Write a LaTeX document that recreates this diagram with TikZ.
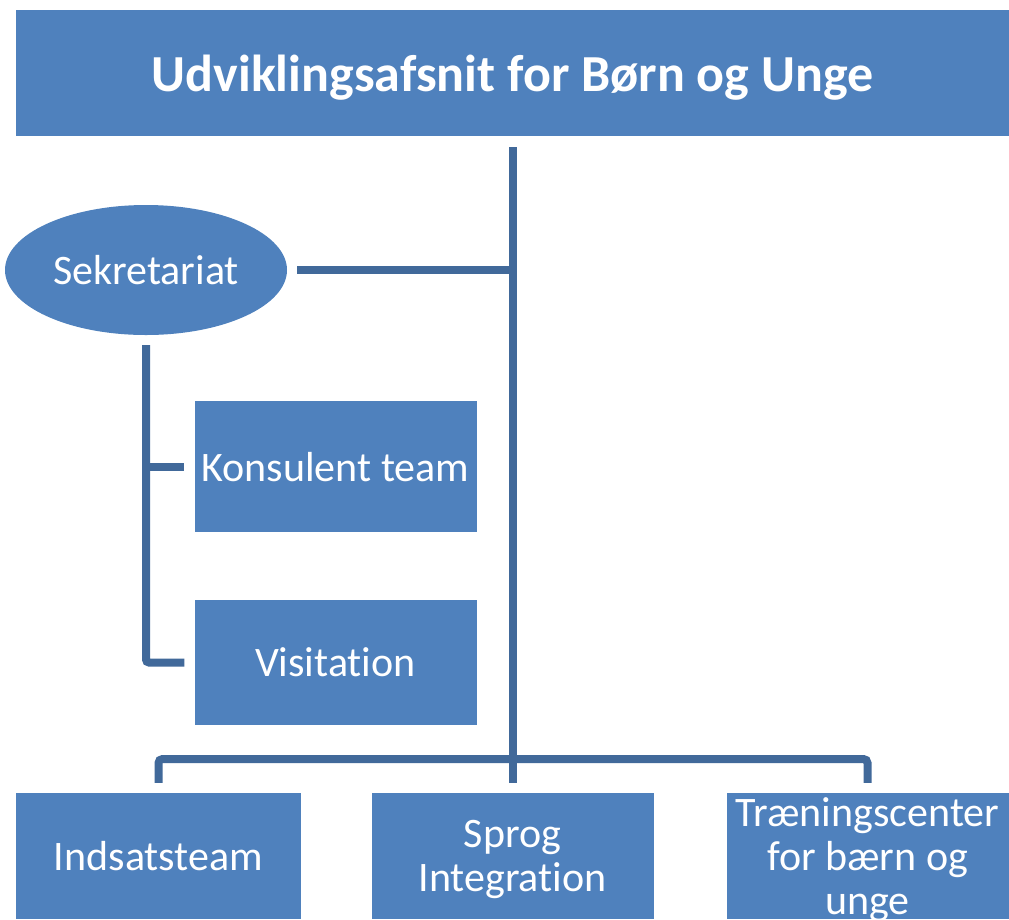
\documentclass[tikz,border=0pt]{standalone}
\usepackage{fontspec}
\setmainfont{Carlito}[Ligatures=NoCommon]
\usepackage{tikz}
\usetikzlibrary{shapes.geometric}
\definecolor{unitblue}{HTML}{4F81BD}
\definecolor{lineblue}{HTML}{41699A}
\tikzset{
	header/.style={
		% The shape:
		rectangle,minimum width=994pt,minimum height=126pt,
		% The rest
		fill=unitblue,text=white,text depth=0pt,
		font=\fontsize{52}{56}\selectfont\bfseries,
	}}
\tikzset{
		unit/.style={
			% The shape:
			shape=rectangle,
			% The size:
			minimum width=282pt,minimum height=126pt,inner sep=0pt,
			% The filling:
			fill=unitblue,text=white,text depth=0pt,
			align=center,font=\fontsize{42}{44}\selectfont,
		}}
\tikzset{
		oval/.style={
			unit,
			% The shape:
			ellipse,minimum width=282pt,minimum height=130pt,
		}}
\tikzset{
		link/.style={
			line width=8pt,draw=lineblue,
		}}

\begin{document}
\begin{tikzpicture}[x=1pt,y=-1pt]
				\useasboundingbox (0,0) rectangle (1009,919);
				\node[header] (title) at (512.5,73) {Udviklingsafsnit for Børn og Unge};
				\node[oval] (sek) at (146,270) {Sekretariat};
				\node[unit,minimum height=131pt] (kons) at (335.5,466.5) {Konsulent team};
				\node[unit,minimum height=125pt] (visit) at (335.5,662.5) {Visitation};
				\node[unit,minimum width=285pt] (ind) at (158.5,856) {Indsatsteam};
				\node[unit] (sprog) at (512.5,856) {Sprog\\Integration};
				\node[unit] (train) at (867.5,856) {Træningscenter\\for bærn og\\unge};
				\coordinate (fork) at (512.5,759);
				\draw[link] ([yshift=-11pt]title.south) -- ([yshift=10pt]sprog.north);
				\draw[link] ([xshift=10pt]sek.east) -- (sek.east -| title.south);
				\draw[link,rounded corners=3pt] ([yshift=-10pt]sek.south) |- ([xshift=-10pt]visit.west);
				\draw[link] (sek.south |- kons.west) -- ([xshift=-10pt]kons.west);
				\draw[link,rounded corners=4pt] ([yshift=10pt]ind.north) |- (fork) -| ([yshift=10pt]train.north);
				\end{tikzpicture}
\end{document}
